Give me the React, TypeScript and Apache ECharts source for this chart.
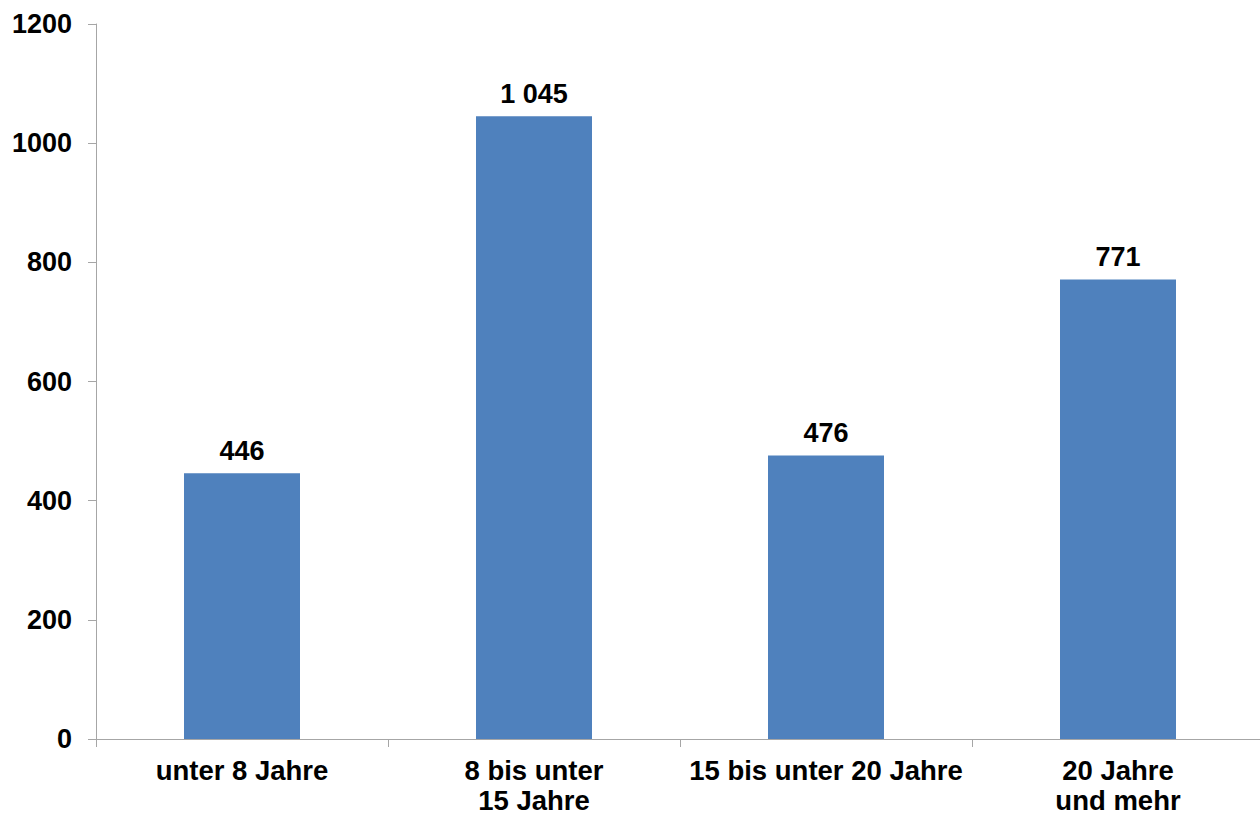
import React, { useEffect, useRef } from "react";
import * as echarts from "echarts";

const categories = ["unter 8 Jahre", "8 bis unter\n15 Jahre", "15 bis unter 20 Jahre", "20 Jahre\nund mehr"];
const values = [446, 1045, 476, 771];
const yTicks = [0, 200, 400, 600, 800, 1000, 1200];

const FONT = "'Liberation Sans', Arial, sans-serif";

function fmt(v: number): string {
  return String(v).replace(/\B(?=(\d{3})+(?!\d))/g, " ");
}

export default function App() {
  const ref = useRef<HTMLDivElement>(null);
  useEffect(() => {
    document.body.style.margin = "0";
    if (!ref.current) return;
    const chart = echarts.init(ref.current, null, { renderer: "svg" });
    chart.setOption({
      animation: false,
      backgroundColor: "#ffffff",
      grid: { left: 96, top: 24, bottom: 77, width: 1168, containLabel: false, outerBoundsMode: "none" },
      xAxis: {
        type: "category",
        data: categories,
        boundaryGap: true,
        axisLine: { show: true, lineStyle: { color: "#a6a6a6", width: 1 } },
        axisTick: { show: true, length: 8, inside: false, alignWithLabel: false, lineStyle: { color: "#a6a6a6" } },
        axisLabel: {
          interval: 0,
          margin: 16.5,
          color: "#000",
          fontFamily: FONT,
          fontWeight: "bold",
          fontSize: 27.5,
          lineHeight: 30,
        },
      },
      yAxis: {
        type: "value",
        min: yTicks[0],
        max: yTicks[yTicks.length - 1],
        interval: 200,
        splitLine: { show: false },
        axisLine: { show: true, lineStyle: { color: "#a6a6a6", width: 1 } },
        axisTick: { show: true, length: 8, inside: false, lineStyle: { color: "#a6a6a6" } },
        axisLabel: {
          margin: 24,
          color: "#000",
          fontFamily: FONT,
          fontWeight: "bold",
          fontSize: 27,
          formatter: (v: number) => String(v),
        },
      },
      series: [
        {
          type: "bar",
          data: values,
          barWidth: 116,
          itemStyle: { color: "#4f81bd" },
          label: {
            show: true,
            position: "top",
            distance: 9,
            color: "#000",
            fontFamily: FONT,
            fontWeight: "bold",
            fontSize: 27,
            formatter: (p: any) => fmt(p.value),
          },
        },
      ],
    });
    return () => chart.dispose();
  }, []);
  return <div ref={ref} style={{ position: "absolute", left: 0, top: 0, width: 1260, height: 816 }} />;
}
